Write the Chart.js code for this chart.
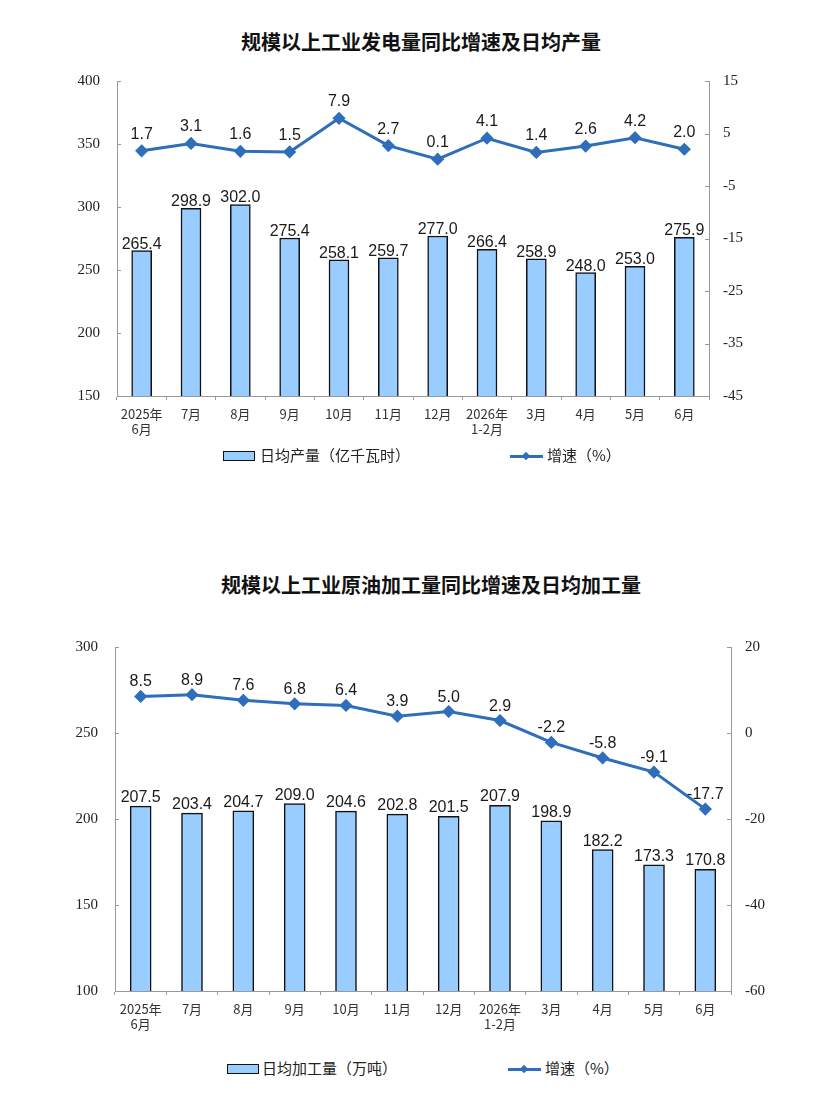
<!DOCTYPE html>
<html>
<head>
<meta charset="utf-8">
<script src="https://cdn.jsdelivr.net/npm/chart.js@4.4.1/dist/chart.umd.min.js"></script>
<style>
  body { margin: 0; background: #fff; width: 830px; height: 1120px; position: relative; overflow: hidden; }
  canvas { position: absolute; left: 0; }
  .title { position: absolute; left: 0; width: 830px; text-align: center; font: bold 20px "Noto Sans CJK SC", sans-serif; color: #111; }
  .leg { position: absolute; font: 15px "Noto Sans CJK SC", sans-serif; color: #222; line-height: 20px; }
  .box { position: absolute; width: 30px; height: 8px; background: #99CCFF; border: 1.5px solid #111; }
  .ln { position: absolute; width: 33px; height: 3px; background: #2F6EBA; }
  .ln:after { content: ""; position: absolute; left: 13px; top: -2.5px; width: 6px; height: 6px; background: #2F6EBA; transform: rotate(45deg); }
</style>
</head>
<body>
<div class="title" style="top:27px; left:6px;">规模以上工业发电量同比增速及日均产量</div>
<canvas id="c1" width="830" height="450" style="top:0"></canvas>
<div class="box" style="left:223px; top:451px;"></div>
<div class="leg" style="left:260px; top:445px;">日均产量（亿千瓦时）</div>
<div class="ln" style="left:510px; top:455px;"></div>
<div class="leg" style="left:547px; top:445px;">增速（%）</div>

<div class="title" style="top:570px; left:16px;">规模以上工业原油加工量同比增速及日均加工量</div>
<canvas id="c2" width="830" height="490" style="top:560px"></canvas>
<div class="box" style="left:227px; top:1064px;"></div>
<div class="leg" style="left:262px; top:1058px;">日均加工量（万吨）</div>
<div class="ln" style="left:508px; top:1068px;"></div>
<div class="leg" style="left:545px; top:1058px;">增速（%）</div>

<script>
// categories shared by both charts
const months = [['2025年', '6月'], '7月', '8月', '9月', '10月', '11月', '12月', ['2026年', '1-2月'], '3月', '4月', '5月', '6月'];

// chart 1: power generation
const powerDaily = [265.4, 298.9, 302.0, 275.4, 258.1, 259.7, 277.0, 266.4, 258.9, 248.0, 253.0, 275.9];
const powerGrowth = [1.7, 3.1, 1.6, 1.5, 7.9, 2.7, 0.1, 4.1, 1.4, 2.6, 4.2, 2.0];

// chart 2: crude oil processing
const oilDaily = [207.5, 203.4, 204.7, 209.0, 204.6, 202.8, 201.5, 207.9, 198.9, 182.2, 173.3, 170.8];
const oilGrowth = [8.5, 8.9, 7.6, 6.8, 6.4, 3.9, 5.0, 2.9, -2.2, -5.8, -9.1, -17.7];

const lineColor = '#2F6EBA';
const axisColor = '#999';

// draws the value labels above bars and points
const valueLabels = {
    id: 'valueLabels',
    afterDatasetsDraw(chart, args, opts) {
        const ctx = chart.ctx;
        ctx.save();
        ctx.font = '16px "Liberation Sans", Arial, sans-serif';
        ctx.fillStyle = '#1a1a1a';
        ctx.textAlign = 'center';
        ctx.textBaseline = 'alphabetic';
        chart.data.datasets.forEach((ds, i) => {
            const meta = chart.getDatasetMeta(i);
            meta.data.forEach((el, j) => {
                const off = ds.type === 'bar' ? opts.barOffset : opts.lineOffset;
                ctx.fillText(ds.data[j].toFixed(1), el.x, el.y - off);
            });
        });
        ctx.restore();
    }
};

// small tick marks pointing into the plot on both value axes
const innerTicks = {
    id: 'innerTicks',
    afterDraw(chart) {
        const ctx = chart.ctx;
        ctx.save();
        ctx.strokeStyle = axisColor;
        ctx.lineWidth = 1;
        ['y', 'y1'].forEach(id => {
            const s = chart.scales[id];
            const x = id === 'y' ? chart.chartArea.left : chart.chartArea.right;
            const dir = id === 'y' ? 1 : -1;
            s.ticks.forEach(t => {
                const y = Math.round(s.getPixelForValue(t.value)) + 0.5;
                ctx.beginPath();
                ctx.moveTo(x, y);
                ctx.lineTo(x + dir * 4, y);
                ctx.stroke();
            });
        });
        ctx.restore();
    }
};

function makeChart(id, bars, growth, cfg) {
    const ctx = document.getElementById(id).getContext('2d');
    return new Chart(ctx, {
        data: {
            labels: months,
            datasets: [
                {
                    type: 'line',
                    data: growth,
                    yAxisID: 'y1',
                    borderColor: lineColor,
                    backgroundColor: lineColor,
                    borderWidth: 3,
                    pointStyle: 'rectRot',
                    pointRadius: 4.5,
                    tension: 0,
                    order: 0
                },
                {
                    type: 'bar',
                    data: bars,
                    yAxisID: 'y',
                    backgroundColor: '#99CCFF',
                    borderColor: '#111',
                    borderWidth: 1.5,
                    barThickness: cfg.barWidth,
                    order: 1
                }
            ]
        },
        options: {
            responsive: false,
            animation: false,
            layout: { padding: { top: cfg.top, left: 0, right: 0, bottom: 0 } },
            plugins: {
                legend: { display: false },
                tooltip: { enabled: false },
                valueLabels: { barOffset: cfg.barOffset, lineOffset: cfg.lineOffset }
            },
            scales: {
                x: {
                    offset: true,
                    grid: { offset: true, drawOnChartArea: false, drawTicks: true, tickLength: 4, color: axisColor },
                    border: { color: axisColor },
                    ticks: { color: '#333', padding: 6, font: { family: '"Noto Sans CJK SC", sans-serif', size: 13 }, maxRotation: 0, autoSkip: false },
                    afterFit: s => { s.height = cfg.xHeight; }
                },
                y: {
                    position: 'left',
                    min: cfg.yMin, max: cfg.yMax,
                    ticks: { stepSize: cfg.yStep, color: '#222', padding: cfg.leftPad, font: { family: '"Liberation Serif", serif', size: 15 } },
                    grid: { drawOnChartArea: false, drawTicks: false },
                    border: { color: axisColor },
                    afterFit: s => { s.width = cfg.left; }
                },
                y1: {
                    position: 'right',
                    min: cfg.rMin, max: cfg.rMax,
                    ticks: { stepSize: cfg.rStep, color: '#222', padding: 14, font: { family: '"Liberation Serif", serif', size: 15 } },
                    grid: { drawOnChartArea: false, drawTicks: false },
                    border: { color: axisColor },
                    afterFit: s => { s.width = 830 - cfg.right; }
                }
            }
        },
        plugins: [valueLabels, innerTicks]
    });
}

window.onload = function () {
    makeChart('c1', powerDaily, powerGrowth, {
        top: 81, xHeight: 450 - 396, left: 117, right: 709, leftPad: 17,
        yMin: 150, yMax: 400, yStep: 50, rMin: -45, rMax: 15, rStep: 10,
        barWidth: 20, barOffset: 2, lineOffset: 12
    });
    makeChart('c2', oilDaily, oilGrowth, {
        top: 87, xHeight: 490 - 431, left: 115, right: 731, leftPad: 17,
        yMin: 100, yMax: 300, yStep: 50, rMin: -60, rMax: 20, rStep: 20,
        barWidth: 21, barOffset: 4, lineOffset: 10
    });
};
</script>
</body>
</html>
